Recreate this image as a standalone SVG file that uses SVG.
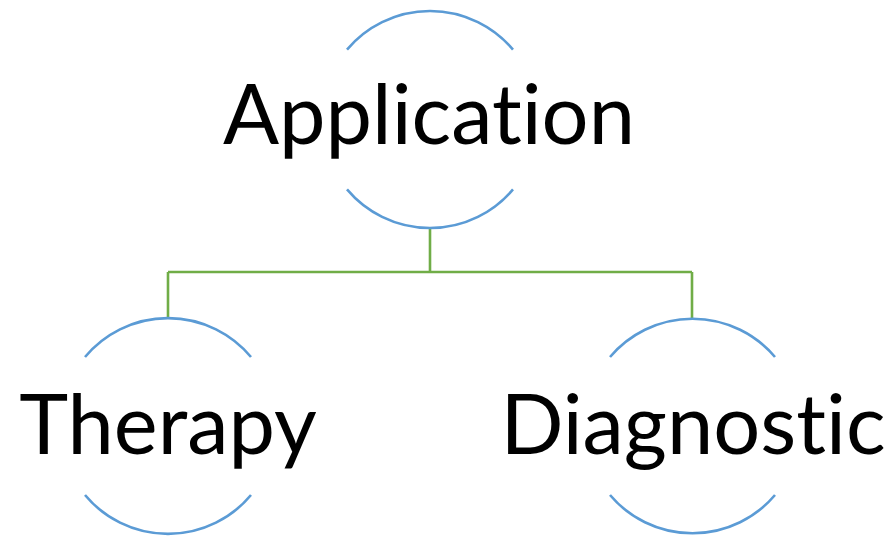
<svg xmlns="http://www.w3.org/2000/svg" width="892" height="538" viewBox="0 0 892 538">
  <style>
    .ring { fill: none; stroke: #5B9BD5; stroke-width: 2.6; }
    .link { fill: none; stroke: #70AD47; stroke-width: 2.6; }
    .label { font-family: Lato, "Open Sans", sans-serif; font-size: 83px; fill: #000; text-anchor: middle; font-variant-ligatures: none; }
  </style>
  <rect width="892" height="538" fill="#fff"/>

  <!-- connectors -->
  <g id="connectors">
    <path class="link" d="M430 228 V272 M168 272 H692 M168 272 V318 M692 272 V318"/>
  </g>

  <!-- root node: circle split by its label -->
  <g id="node-application">
    <path class="ring" d="M347 49.6 A108.5 108.5 0 0 1 513 49.6"/>
    <path class="ring" d="M347 189.4 A108.5 108.5 0 0 0 513 189.4"/>
    <text class="label" x="429" y="144">Application</text>
  </g>

  <g id="node-therapy">
    <path class="ring" d="M85 357 A108 108 0 0 1 251 357"/>
    <path class="ring" d="M85 495 A108 108 0 0 0 251 495"/>
    <text class="label" x="168" y="454">Therapy</text>
  </g>

  <g id="node-diagnostic">
    <path class="ring" d="M610 357 A108 108 0 0 1 775 357"/>
    <path class="ring" d="M610 495 A108 108 0 0 0 775 495"/>
    <text class="label" x="693" y="454">Diagnostic</text>
  </g>
</svg>
